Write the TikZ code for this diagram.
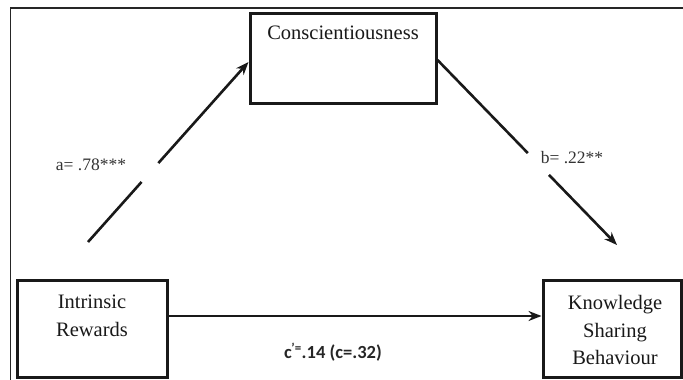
\documentclass[tikz,border=0pt]{standalone}
\usepackage{fontspec}
\setmainfont{Liberation Serif}
\newfontfamily\calibrilike{Carlito}
\usetikzlibrary{arrows.meta}
\tikzset{
  box/.style={draw=black!90, line width=3pt, rectangle, inner sep=0pt},
  boxtext/.style={font=\fontsize{20.5}{27.5}\selectfont, text=black!90, inner sep=0pt, align=center},
  coef/.style={font=\fontsize{17.5}{20}\selectfont, text=black!80, inner sep=0pt},
  path/.style={draw=black!90, line width=2.6pt, -{Stealth[length=13pt,width=10pt]}},
  gapmark/.style={fill=white, sloped, inner sep=0pt, minimum height=8pt},
  frame/.style={draw=black!85, line width=1.7pt}
}
\begin{document}
\begin{tikzpicture}[x=1pt,y=-1pt]
\useasboundingbox (0,0) rectangle (683,380);
% outer frame (cut off at right and bottom)
\coordinate (fbl) at (10.5,381);
\coordinate (ftl) at (10.5,8.3);
\coordinate (ftr) at (684,8.3);
\draw[frame] (fbl) -- (ftl) -- (ftr);

% boxes
\node[box, minimum width=186pt, minimum height=90pt] (consc) at (343,58) {};
\node[boxtext] (consct) at (343,33) {Conscientiousness};

\node[box, minimum width=150pt, minimum height=97pt] (ir) at (92,328.5) {};
\node[boxtext] (irt) at (92,316) {Intrinsic\\Rewards};

\node[box, minimum width=138pt, minimum height=97pt] (ksb) at (612,328.5) {};
\node[boxtext] (ksbt) at (615,330) {Knowledge\\Sharing\\Behaviour};

% connectors
\coordinate (astart) at (88,242);
\coordinate (bend) at (617,245);
\draw[path] (astart) -- node[gapmark, pos=0.386, minimum width=25pt] (agap) {} ([yshift=-4pt]consc.west);
\draw[path] ([yshift=-2pt]consc.east) -- node[gapmark, pos=0.562, minimum width=30pt] (bgap) {} (bend);
\draw[path, line width=2.8pt] ([yshift=12.5pt]ir.east) -- ([yshift=12.5pt]ksb.west);

% labels
\node[coef] (alab) at (91,165) {a= .78***};
\node[coef] (blab) at (572,158) {b= .22**};
\node[font=\calibrilike\bfseries\fontsize{18.5}{20}\selectfont, text=black!85, inner sep=0pt] (clab) at (333,352) {c\textsuperscript{\kern-0.5pt’=}.14 (c=.32)};
\end{tikzpicture}
\end{document}
